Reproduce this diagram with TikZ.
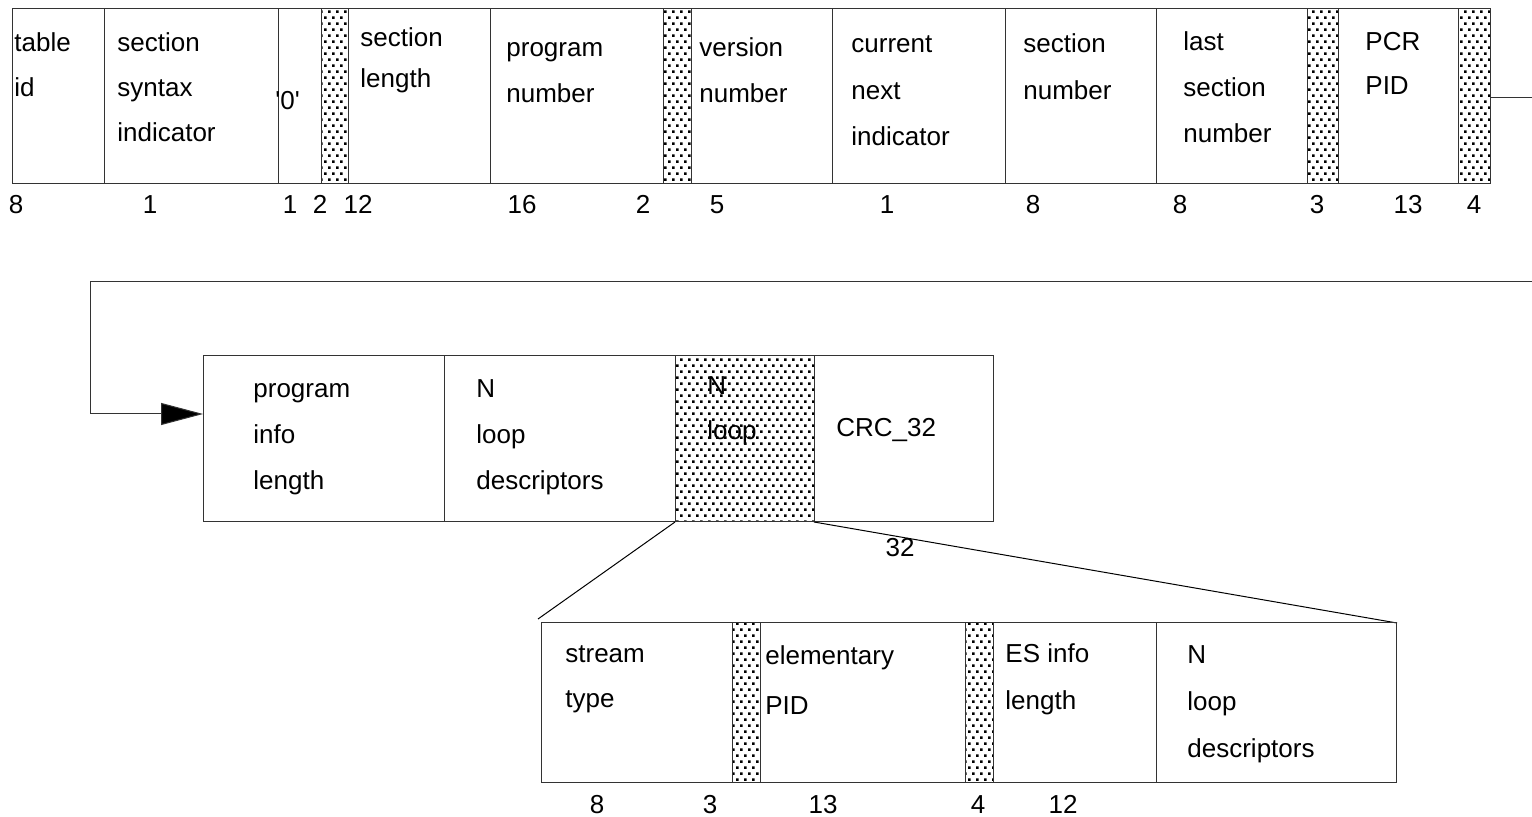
\documentclass[tikz,border=0pt]{standalone}
\usepackage{fontspec}
\setmainfont{Liberation Sans}
\usetikzlibrary{arrows.meta,patterns}

% dotted fill for the reserved bits
\pgfdeclarepatternformonly{fielddots}{\pgfqpoint{-0.5pt}{-0.5pt}}{\pgfqpoint{3.5pt}{5.5pt}}{\pgfqpoint{4pt}{6pt}}{%
  \pgfpathrectangle{\pgfqpoint{0pt}{0pt}}{\pgfqpoint{1.3pt}{1.3pt}}%
  \pgfpathrectangle{\pgfqpoint{2pt}{3pt}}{\pgfqpoint{1.3pt}{1.3pt}}%
  \pgfusepath{fill}}

\tikzset{
  field/.style={draw=black!80, line width=0.5pt},
  pad/.style={field, pattern=fielddots},
  ftext/.style={anchor=base west, inner sep=0pt, align=left, font=\fontsize{13}{23}\selectfont},
  bits/.style={anchor=base, inner sep=0pt, font=\fontsize{13}{15}\selectfont},
}

\begin{document}
\begin{tikzpicture}[x=0.5pt, y=-0.5pt]

    \fill[white] (0,0) rectangle (1532,817);
    \useasboundingbox (0,0) rectangle (1532,817);

    % ---- First row of the section ----
    \draw[field] (12,9) rectangle (1490,184);
    \draw[field] (104,9) -- (104,184);
    \draw[field] (278,9) -- (278,184);
    \draw[pad] (321,9) rectangle (348,184);
    \draw[field] (490,9) -- (490,184);
    \draw[pad] (663,9) rectangle (691,184);
    \draw[field] (832,9) -- (832,184);
    \draw[field] (1005,9) -- (1005,184);
    \draw[field] (1156,9) -- (1156,184);
    \draw[pad] (1307,9) rectangle (1338,184);
    \draw[pad] (1458,9) rectangle (1490,184);

    % texts are placed at the baseline of their last line
    \node[ftext, font=\fontsize{13}{22.5}\selectfont] (tableid) at (14,97) {table\\id};
    \node[ftext, font=\fontsize{13}{22.5}\selectfont] (syntax) at (117,142) {section\\syntax\\indicator};
    \node[ftext] (zero) at (275,110) {\textquotesingle0\textquotesingle};
    \node[ftext, font=\fontsize{13}{20.5}\selectfont] (seclen) at (360,88) {section\\length};
    \node[ftext] (prognum) at (506,103) {program\\number};
    \node[ftext] (vernum) at (699,103) {version\\number};
    \node[ftext, font=\fontsize{13}{23.3}\selectfont] (curnext) at (851,146) {current\\next\\indicator};
    \node[ftext, font=\fontsize{13}{23.5}\selectfont] (secnum) at (1023,100) {section\\number};
    \node[ftext] (lastsec) at (1183,143) {last\\section\\number};
    \node[ftext, font=\fontsize{13}{22}\selectfont] (pcrpid) at (1365,95) {PCR\\PID};

    % bit counts
    \node[bits] (n1) at (16,214) {8};
    \node[bits] (n2) at (150,214) {1};
    \node[bits] (n3) at (290,214) {1};
    \node[bits] (n4) at (320,214) {2};
    \node[bits] (n5) at (358,214) {12};
    \node[bits] (n6) at (522,214) {16};
    \node[bits] (n7) at (643,214) {2};
    \node[bits] (n8) at (717,214) {5};
    \node[bits] (n9) at (887,214) {1};
    \node[bits] (n10) at (1033,214) {8};
    \node[bits] (n11) at (1180,214) {8};
    \node[bits] (n12) at (1317,214) {3};
    \node[bits] (n13) at (1408,214) {13};
    \node[bits] (n14) at (1474,214) {4};

    % ---- continuation to the second row ----
    \coordinate (out) at (1490,98);
    \coordinate (edgeA) at (1532,98);
    \coordinate (edgeB) at (1532,282);
    \coordinate (back) at (90,282);
    \coordinate (pinfo) at (203,414);
    \draw[field] (out) -- (edgeA);
    \draw[field, -{Triangle[length=21pt,width=11pt,fill=black]}] (edgeB) -- (back) |- (pinfo);

    % ---- Second row ----
    \draw[field] (203,356) rectangle (993,522);
    \draw[field] (444,356) -- (444,522);
    \draw[pad] (675,356) rectangle (814,522);

    \node[ftext] (proginfo) at (253,490) {program\\info\\length};
    \node[ftext] (progdesc) at (476,490) {N\\loop\\descriptors};
    \node[ftext, font=\fontsize{13}{22.5}\selectfont] (esloop) at (707,440) {N\\loop};
    \node[ftext] (crc) at (836,437) {CRC\_32};
    \node[bits] (n15) at (900,557) {32};

    % ---- expansion of the N loop ----
    \coordinate (loopbl) at (675,522);
    \coordinate (loopbr) at (814,522);
    \coordinate (estl) at (538,619);
    \coordinate (estr) at (1397,623);
    \draw[line width=0.5pt] (loopbl) -- (estl);
    \draw[line width=0.5pt] (loopbr) -- (estr);

    \draw[field] (541,623) rectangle (1396,782);
    \draw[pad] (732,623) rectangle (760,782);
    \draw[pad] (965,623) rectangle (993,782);
    \draw[field] (1156,623) -- (1156,782);

    \node[ftext, font=\fontsize{13}{22.5}\selectfont] (sttype) at (565,708) {stream\\type};
    \node[ftext, font=\fontsize{13}{25}\selectfont] (elpid) at (765,715) {elementary\\PID};
    \node[ftext, font=\fontsize{13}{23.5}\selectfont] (esinfo) at (1005,710) {ES info\\length};
    \node[ftext, font=\fontsize{13}{23.5}\selectfont] (esdesc) at (1187,757) {N\\loop\\descriptors};

    \node[bits] (n16) at (597,813) {8};
    \node[bits] (n17) at (710,813) {3};
    \node[bits] (n18) at (823,813) {13};
    \node[bits] (n19) at (978,813) {4};
    \node[bits] (n20) at (1063,813) {12};

\end{tikzpicture}
\end{document}
